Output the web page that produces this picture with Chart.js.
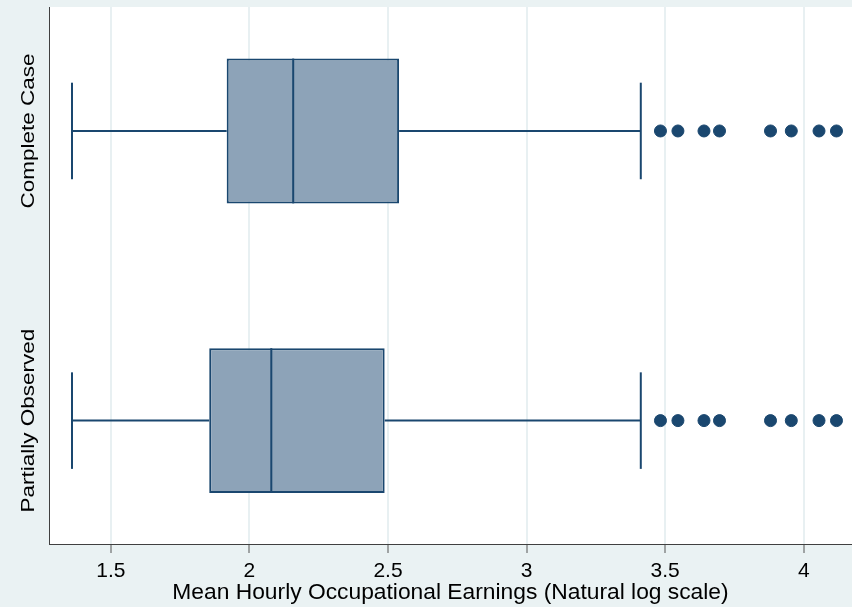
<!DOCTYPE html>
<html>
<head>
<meta charset="utf-8">
<title>Mean Hourly Occupational Earnings</title>
<script src="https://cdn.jsdelivr.net/npm/chart.js@4/dist/chart.umd.min.js"></script>
<style>
  html, body { margin: 0; padding: 0; background: #EAF2F3; }
  canvas { display: block; }
</style>
</head>
<body>
<canvas id="chart" width="852" height="607"></canvas>
<script>
// Box-plot summaries of log mean hourly earnings, one row per sample
const groups = ['Complete Case', 'Partially Observed'];
const whiskerLow = [1.360, 1.360];
const quartile1 = [1.918, 1.855];
const medians = [2.158, 2.079];
const quartile3 = [2.540, 2.488];
const whiskerHigh = [3.412, 3.412];
const outlierValues = [
  [3.483, 3.546, 3.640, 3.696, 3.880, 3.955, 4.055, 4.118],
  [3.483, 3.546, 3.640, 3.696, 3.880, 3.955, 4.055, 4.118]
];
const xTicks = [1.5, 2, 2.5, 3, 3.5, 4];
const xRange = [1.277, 4.174];
const yRange = [-0.426, 1.428];
const xTitle = 'Mean Hourly Occupational Earnings (Natural log scale)';

// styling
const NAVY = '#1A476F';
const BOX_FILL = '#8DA3B8';
const PAGE_BG = '#EAF2F3';
const FONT = '"Liberation Sans", Arial, Helvetica, sans-serif';
const BOX_FRACTION = 0.5;   // box height as share of row spacing
const CAP_HALF = 1 / 6;     // half-length of whisker caps, in row units

// first group on top
const rowOf = i => groups.length - 1 - i;

const datasets = [];

datasets.push({
  type: 'bar',
  indexAxis: 'y',
  data: groups.map((g, i) => ({ x: [quartile1[i], quartile3[i]], y: rowOf(i) })),
  backgroundColor: BOX_FILL,
  borderColor: NAVY,
  borderWidth: 2,
  borderSkipped: false,
  categoryPercentage: 1,
  barPercentage: BOX_FRACTION,
  order: 3
});

function segment(points, order) {
  datasets.push({
    type: 'line',
    data: points,
    showLine: true,
    borderColor: NAVY,
    borderWidth: 2,
    borderCapStyle: 'butt',
    pointRadius: 0,
    pointHoverRadius: 0,
    fill: false,
    tension: 0,
    order: order
  });
}

groups.forEach((g, i) => {
  const y = rowOf(i);
  segment([{ x: whiskerLow[i], y }, { x: quartile1[i], y }], 4);
  segment([{ x: quartile3[i], y }, { x: whiskerHigh[i], y }], 4);
  segment([{ x: whiskerLow[i], y: y - CAP_HALF }, { x: whiskerLow[i], y: y + CAP_HALF }], 4);
  segment([{ x: whiskerHigh[i], y: y - CAP_HALF }, { x: whiskerHigh[i], y: y + CAP_HALF }], 4);
  segment([{ x: medians[i], y: y - BOX_FRACTION / 2 }, { x: medians[i], y: y + BOX_FRACTION / 2 }], 1);
});

datasets.push({
  type: 'scatter',
  data: groups.flatMap((g, i) => outlierValues[i].map(v => ({ x: v, y: rowOf(i) }))),
  backgroundColor: NAVY,
  borderColor: NAVY,
  borderWidth: 1,
  pointRadius: 6,
  pointHoverRadius: 6,
  order: 0
});

// page background plus white plot region
const plotBackground = {
  id: 'plotBackground',
  beforeDraw(chart) {
    const { ctx, chartArea: a } = chart;
    ctx.save();
    ctx.fillStyle = PAGE_BG;
    ctx.fillRect(0, 0, chart.width, chart.height);
    ctx.fillStyle = '#FFFFFF';
    ctx.fillRect(a.left, a.top, a.right - a.left, a.bottom - a.top);
    ctx.restore();
  }
};

// vertical group names along the left axis
const groupLabels = {
  id: 'groupLabels',
  afterDraw(chart) {
    const { ctx } = chart;
    const yScale = chart.scales.y;
    ctx.save();
    ctx.fillStyle = '#000000';
    ctx.font = '18px ' + FONT;
    ctx.textAlign = 'center';
    ctx.textBaseline = 'alphabetic';
    groups.forEach((g, i) => {
      ctx.save();
      ctx.translate(yScale.right - 15.5, yScale.getPixelForValue(rowOf(i)));
      ctx.rotate(-Math.PI / 2);
      ctx.scale(1.25, 1);
      ctx.fillText(g, 0, 0);
      ctx.restore();
    });
    ctx.restore();
  }
};

new Chart(document.getElementById('chart'), {
  type: 'scatter',
  data: { datasets },
  options: {
    responsive: false,
    animation: false,
    devicePixelRatio: 1,
    layout: { autoPadding: false, padding: { top: 7, right: 0, bottom: 0, left: 0 } },
    plugins: {
      legend: { display: false },
      tooltip: { enabled: false }
    },
    scales: {
      x: {
        type: 'linear',
        min: xRange[0],
        max: xRange[1],
        offset: false,
        afterBuildTicks: s => { s.ticks = xTicks.map(v => ({ value: v })); },
        afterFit: s => { s.height = 63; s.paddingLeft = 0; s.paddingRight = 0; },
        grid: {
          offset: false,
          color: '#E8F0F2',
          lineWidth: 2,
          tickColor: '#555555',
          tickWidth: 1,
          tickLength: 9
        },
        border: { color: '#404040', width: 1 },
        ticks: {
          color: '#000000',
          font: { family: FONT, size: 21 },
          padding: 5.5,
          maxRotation: 0,
          autoSkip: false,
          callback: v => String(v)
        },
        title: {
          display: true,
          text: xTitle,
          color: '#000000',
          font: { family: FONT, size: 22.8 },
          padding: { top: 0, bottom: 1 }
        }
      },
      y: {
        type: 'linear',
        min: yRange[0],
        max: yRange[1],
        offset: false,
        afterBuildTicks: s => {
          s.ticks = groups.map((g, i) => ({ value: rowOf(i) })).sort((a, b) => a.value - b.value);
        },
        afterFit: s => { s.width = 49; s.paddingTop = 0; s.paddingBottom = 0; },
        grid: { display: true, drawOnChartArea: false, drawTicks: false },
        border: { color: '#404040', width: 1 },
        ticks: { display: false }
      }
    }
  },
  plugins: [plotBackground, groupLabels]
});
</script>
</body>
</html>
